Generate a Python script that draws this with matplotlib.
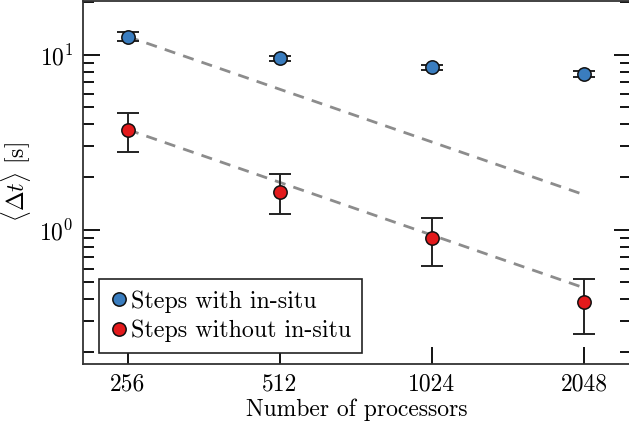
import numpy as np
import matplotlib
matplotlib.use("Agg")
import matplotlib.pyplot as plt
from matplotlib.ticker import NullFormatter, NullLocator, LogLocator

plt.rcParams['font.family'] = ['cmr10', 'DejaVu Serif']
plt.rcParams['mathtext.fontset'] = 'cm'
plt.rcParams['axes.formatter.use_mathtext'] = True

# data
procs = [256, 512, 1024, 2048]
with_insitu = [12.7, 9.57, 8.5, 7.76]
with_lo = [12.0, 9.2, 8.2, 7.45]
with_hi = [13.5, 9.9, 8.8, 8.05]
without_insitu = [3.73, 1.65, 0.897, 0.389]
without_lo = [2.80, 1.23, 0.623, 0.253]
without_hi = [4.68, 2.09, 1.17, 0.525]

blue = '#3a7dbf'
red = '#e31a1c'
fs = 17

fig = plt.figure(figsize=(6.29, 4.24), dpi=100)
ax = fig.add_axes([83/629, 60/424, 548/629, 363/424])

p = np.array(procs, dtype=float)

# ideal scaling lines
ax.plot(p, with_insitu[0] * p[0] / p, ls=(0, (4, 3)), color='#8c8c8c', lw=2, zorder=1)
ax.plot(p, without_insitu[0] * p[0] / p, ls=(0, (4, 3)), color='#8c8c8c', lw=2, zorder=1)

for y, lo, hi, c, lab in [(with_insitu, with_lo, with_hi, blue, 'Steps with in-situ'),
                          (without_insitu, without_lo, without_hi, red, 'Steps without in-situ')]:
    y = np.array(y)
    yerr = [y - np.array(lo), np.array(hi) - y]
    ax.errorbar(p, y, yerr=yerr, fmt='none', ecolor='#222222', elinewidth=1.4,
                capsize=8, capthick=1.4, zorder=2)
    ax.plot(p, y, 'o', ms=9.6, mfc=c, mec='#111111', mew=1.1, zorder=3, label=lab)

ax.set_xscale('log', base=2)
ax.set_yscale('log')
ax.set_xlim(256 / 2**0.296, 2048 * 2**0.31)
ax.set_ylim(0.171, 20.3)

ax.set_xticks(procs)
ax.set_xticklabels([str(v) for v in procs])
ax.xaxis.set_minor_locator(NullLocator())
ax.yaxis.set_minor_locator(LogLocator(base=10, subs=np.arange(2, 10)))
ax.yaxis.set_minor_formatter(NullFormatter())

ax.tick_params(which='both', direction='in', right=True, top=False, labelsize=fs, width=1.3)
ax.tick_params(which='major', length=12, pad=7)
ax.tick_params(which='minor', length=8)
for s in ax.spines.values():
    s.set_linewidth(1.3)
    s.set_color('#333333')

ax.set_xlabel('Number of processors', fontsize=fs, labelpad=2)
ax.set_ylabel(r'$\langle \Delta t\rangle$ [s]', fontsize=fs, labelpad=4)

leg = ax.legend(loc='lower left', bbox_to_anchor=(0.029, 0.03), fontsize=17.3, fancybox=False,
                edgecolor='#222222', framealpha=1, handletextpad=0.15, handlelength=0.75,
                borderpad=0.45, labelspacing=0.3, borderaxespad=0.0)
leg.get_frame().set_linewidth(1.2)

fig.savefig('out.png', dpi=100)
